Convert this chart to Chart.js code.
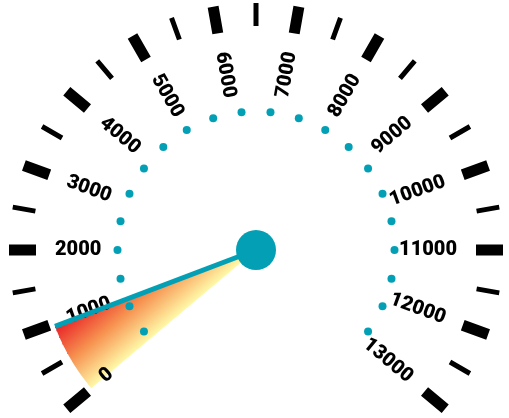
<!DOCTYPE html>
<html><head><meta charset="utf-8">
<script src="https://cdn.jsdelivr.net/npm/chart.js@4/dist/chart.umd.min.js"></script>
<style>html,body{margin:0;padding:0;background:#fff;}#wrap{width:509px;height:418px;}</style>
</head><body><div id="wrap"><canvas id="c" width="509" height="418"></canvas></div>
<script>
// ---- data ----
const gaugeMin = 0;
const gaugeMax = 13000;
const majorTicks = [0,1000,2000,3000,4000,5000,6000,7000,8000,9000,10000,11000,12000,13000];
const minorTicks = [500,1500,2500,3500,4500,5500,6500,7500,8500,9500,10500,11500,12500];
const tickLabels = ['0','1000','2000','3000','4000','5000','6000','7000','8000','9000','10000','11000','12000','13000'];
const dotValues = [200,800,1400,2000,2600,3200,3800,4400,5000,5600,6200,6800,7400,8000,8600,9200,9800,10400,11000,11600,12200,12800];
const needleValue = 960;

// ---- geometry / style ----
const START_DEG = 140, SWEEP_DEG = 260;
const TEAL = '#03a0b5';
function ang(v){ return (START_DEG + (v - gaugeMin) / (gaugeMax - gaugeMin) * SWEEP_DEG) * Math.PI / 180; }
function polar(v, r){ const a = ang(v); return {x: r * Math.cos(a), y: -r * Math.sin(a)}; }
function segs(vals, r0, r1){ const out = []; vals.forEach(v => { out.push(polar(v, r0), polar(v, r1), {x: 0, y: null}); }); return out; }

const sectorPts = [{x:0,y:0}];
const STEPS = 40;
for (let i = 0; i <= STEPS; i++) sectorPts.push(polar(gaugeMin + (needleValue - gaugeMin) * i / STEPS, 215));
sectorPts.push({x:0,y:0});

const labelPlugin = {
  id: 'gaugeLabels',
  afterDatasetDraw(chart, args){
    if (chart.data.datasets[args.index].id !== 'sector') return;
    const ctx = chart.ctx, xs = chart.scales.x, ys = chart.scales.y;
    ctx.save();
    ctx.font = '900 20px Roboto';
    ctx.fillStyle = '#000';
    ctx.textBaseline = 'middle';
    majorTicks.forEach((v, i) => {
      const p = polar(v, 201);
      const px = xs.getPixelForValue(p.x), py = ys.getPixelForValue(p.y);
      const a = ang(v);
      ctx.save();
      ctx.translate(px, py);
      if (Math.cos(a) >= -1e-9) { ctx.rotate(a); ctx.textAlign = 'right'; }
      else { ctx.rotate(a - Math.PI); ctx.textAlign = 'left'; }
      ctx.fillText(tickLabels[i], 0, 0);
      ctx.restore();
    });
    ctx.restore();
  }
};

new Chart(document.getElementById('c'), {
  type: 'line',
  data: {
    datasets: [
      { id: 'hub', data: [{x:0,y:0}], showLine: false, pointRadius: 20, pointBackgroundColor: TEAL, pointBorderWidth: 0, order: 0 },
      { id: 'needle', data: [{x:0,y:0}, polar(needleValue, 215)], borderColor: TEAL, borderWidth: 5, pointRadius: 0, fill: false, order: 1 },
      { id: 'dots', data: dotValues.map(v => polar(v, 138.5)), showLine: false, pointRadius: 4, pointBackgroundColor: TEAL, pointBorderWidth: 0, order: 2 },
      { id: 'sector', data: sectorPts, borderWidth: 0, pointRadius: 0, fill: 'shape', order: 3,
        backgroundColor: (c) => {
          const chart = c.chart; if (!chart.chartArea) return '#f7934f';
          const xs = chart.scales.x, ys = chart.scales.y;
          const p0 = polar(needleValue, 215);
          const p1 = polar(gaugeMin, 215);
          const x0 = xs.getPixelForValue(p0.x), y0 = ys.getPixelForValue(p0.y);
          const xa = xs.getPixelForValue(p1.x), ya = ys.getPixelForValue(p1.y);
          const xc = xs.getPixelForValue(0), yc = ys.getPixelForValue(0);
          const dx = xa - xc, dy = ya - yc, L2 = dx*dx + dy*dy;
          const t = ((x0 - xc)*dx + (y0 - yc)*dy) / L2;
          const fx = xc + t*dx, fy = yc + t*dy;
          const g = chart.ctx.createLinearGradient(x0, y0, fx, fy);
          g.addColorStop(0, '#e81f26');
          g.addColorStop(0.5, '#f6904f');
          g.addColorStop(1, '#fff9a8');
          return g;
        } },
      { id: 'minor', data: segs(minorTicks, 224, 247), borderColor: '#000', borderWidth: 5, borderCapStyle: 'butt', pointRadius: 0, spanGaps: false, fill: false, order: 4 },
      { id: 'major', data: segs(majorTicks, 220, 247), borderColor: '#000', borderWidth: 11, borderCapStyle: 'butt', pointRadius: 0, spanGaps: false, fill: false, order: 5 }
    ]
  },
  options: {
    responsive: false, animation: false, events: [],
    layout: { padding: 0, autoPadding: false },
    plugins: { legend: { display: false }, tooltip: { enabled: false } },
    scales: {
      x: { type: 'linear', min: -256, max: 253, display: false },
      y: { type: 'linear', min: -168, max: 250, display: false }
    }
  },
  plugins: [labelPlugin]
});
</script></body></html>
